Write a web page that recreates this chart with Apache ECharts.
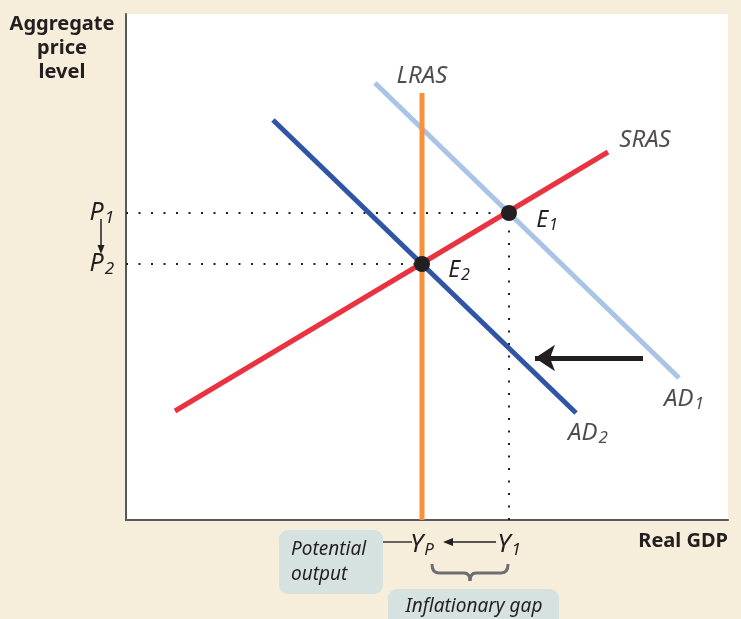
<!DOCTYPE html>
<html><head><meta charset="utf-8">
<script src="https://cdn.jsdelivr.net/npm/echarts@6/dist/echarts.min.js"></script>
<style>html,body{margin:0;padding:0;background:#f6eddb;} #c{width:741px;height:619px;}</style>
</head><body><div id="c"></div>
<script>
// Data (arbitrary units)
const xRange = [0, 602];
const yRange = [0, 506];
const lras = [[296, 0], [296, 427]];
const sras = [[49, 109], [482, 368]];
const ad1  = [[249, 437], [553, 142]];
const ad2  = [[147, 400], [450, 107]];
const e1 = [383, 307];
const e2 = [296, 256];
const shiftArrow = [[517, 162], [409, 162]];
const yTickValues = [e1[1], e2[1]];
const yTickLabels = [['P', '1'], ['P', '2']];
const xTickValues = [e2[0], e1[0]];
const xTickLabels = [['Y', 'P'], ['Y', '1']];
const curveNames = ['LRAS', 'SRAS', 'AD', 'AD'];
const curveSubs = ['', '', '1', '2'];

const FONT = 'Noto Sans';
const INK = '#231f20';
const richSub = (mainSize, subSize, pad) => ({
  m: {fontFamily: FONT, fontStyle: 'italic', fontSize: mainSize, color: INK},
  s: {fontFamily: FONT, fontStyle: 'italic', fontSize: subSize, color: INK, padding: [pad, 0, 0, 1]}
});
const fmt = (pair) => '{m|' + pair[0] + '}' + (pair[1] ? '{s|' + pair[1] + '}' : '');

const chart = echarts.init(document.getElementById('c'));
const option = {
  animation: false,
  backgroundColor: '#f6eddb',
  grid: {left: 126, top: 14, width: 602, height: 506, show: true, backgroundColor: '#ffffff', borderWidth: 0},
  xAxis: {
    type: 'value', min: xRange[0], max: xRange[1],
    axisLine: {show: true, lineStyle: {color: '#58595b', width: 2}},
    axisTick: {show: false}, splitLine: {show: false},
    axisLabel: {
      customValues: xTickValues, margin: 11,
      formatter: v => fmt(xTickLabels[xTickValues.indexOf(v)]),
      rich: richSub(26, 17, 11)
    }
  },
  yAxis: {
    type: 'value', min: yRange[0], max: yRange[1],
    axisLine: {show: true, lineStyle: {color: '#58595b', width: 2}},
    axisTick: {show: false}, splitLine: {show: false},
    axisLabel: {
      customValues: yTickValues, margin: 12,
      formatter: v => fmt(yTickLabels[yTickValues.indexOf(v)]),
      rich: richSub(25, 17, 11)
    }
  },
  series: [
    {type: 'line', silent: true, showSymbol: false, data: [[0, e1[1]], e1],
     lineStyle: {color: INK, width: 2, type: [2, 10.5]}},
    {type: 'line', silent: true, showSymbol: false, data: [[0, e2[1]], e2],
     lineStyle: {color: INK, width: 2, type: [2, 10.5]}},
    {type: 'line', silent: true, showSymbol: false, data: [[e1[0], 0], e1],
     lineStyle: {color: INK, width: 2, type: [2, 10.5]}},
    {type: 'line', silent: true, showSymbol: false, data: ad1, lineStyle: {color: '#a9c4e5', width: 5}},
    {type: 'line', silent: true, showSymbol: false, data: ad2, lineStyle: {color: '#3155a6', width: 5}},
    {type: 'line', silent: true, showSymbol: false, data: sras, lineStyle: {color: '#ea3340', width: 5}},
    {type: 'line', silent: true, showSymbol: false, data: lras, lineStyle: {color: '#f7923a', width: 5}},
    {type: 'lines', coordinateSystem: 'cartesian2d', silent: true,
     symbol: ['none', 'arrow'], symbolSize: [13, 20],
     lineStyle: {color: INK, width: 5, opacity: 1},
     data: [{coords: shiftArrow}]},
    {type: 'scatter', silent: true, symbolSize: 16, z: 10, itemStyle: {color: INK, opacity: 1},
     data: [
       {value: e1, label: {show: true, position: 'inside', offset: [38, 7], formatter: fmt(['E', '1']), rich: richSub(23, 16, 10)}},
       {value: e2, label: {show: true, position: 'inside', offset: [37, 6], formatter: fmt(['E', '2']), rich: richSub(23, 16, 10)}}
     ]},
    {type: 'scatter', silent: true, symbolSize: 1, z: 10, itemStyle: {color: 'rgba(0,0,0,0)'},
     data: [
       {value: lras[1], label: {show: true, position: 'inside', offset: [0, -17], formatter: fmt([curveNames[0], curveSubs[0]]), rich: richSub(24, 16, 10)}},
       {value: sras[1], label: {show: true, position: 'inside', offset: [37, -12], formatter: fmt([curveNames[1], curveSubs[1]]), rich: richSub(24, 16, 10)}},
       {value: ad1[1], label: {show: true, position: 'inside', offset: [5, 21], formatter: fmt([curveNames[2], curveSubs[2]]), rich: richSub(24, 17, 11)}},
       {value: ad2[1], label: {show: true, position: 'inside', offset: [12, 20], formatter: fmt([curveNames[3], curveSubs[3]]), rich: richSub(24, 17, 11)}}
     ]}
  ]
};
chart.setOption(option);

// Annotations positioned from the axis values
const px = v => chart.convertToPixel({gridIndex: 0}, v);
const pP1 = px([0, e1[1]]), pP2 = px([0, e2[1]]);
const pYP = px([e2[0], 0]), pY1 = px([e1[0], 0]);
const ax = 101;
const yArrY = 542;
const L = pYP[0] + 10, R = pY1[0] - 1, M = (L + R) / 2;
const BT = 564, BY = 573, BB = 581;
const braceStyle = {stroke: '#6d6e71', lineWidth: 3, fill: null};
chart.setOption({
  graphic: [
    {type: 'text', style: {x: 62, y: 12, text: 'Aggregate\nprice\nlevel', align: 'center', verticalAlign: 'top',
      font: 'bold 20px "Noto Sans"', lineHeight: 24, fill: INK}},
    {type: 'text', style: {x: 728, y: 541, text: 'Real GDP', align: 'right', verticalAlign: 'middle',
      font: 'bold 20px "Noto Sans"', fill: INK}},
    // P1 -> P2 arrow
    {type: 'line', shape: {x1: ax, y1: pP1[1] + 6, x2: ax, y2: pP2[1] - 16}, style: {stroke: INK, lineWidth: 1.5}},
    {type: 'polygon', shape: {points: [[ax - 3.5, pP2[1] - 19], [ax + 3.5, pP2[1] - 19], [ax, pP2[1] - 10]]}, style: {fill: INK}},
    // Y1 -> YP arrow
    {type: 'line', shape: {x1: pY1[0] - 13, y1: yArrY, x2: pYP[0] + 28, y2: yArrY}, style: {stroke: INK, lineWidth: 1.5}},
    {type: 'polygon', shape: {points: [[pYP[0] + 21, yArrY], [pYP[0] + 31, yArrY - 4], [pYP[0] + 31, yArrY + 4]]}, style: {fill: INK}},
    // Potential output box
    {type: 'rect', shape: {x: 279, y: 530, width: 104, height: 64, r: 9}, style: {fill: '#d5e2e0'}},
    {type: 'line', shape: {x1: 383, y1: yArrY, x2: pYP[0] - 10, y2: yArrY}, style: {stroke: '#3a3536', lineWidth: 1.5}},
    {type: 'text', style: {x: 291, y: 537, text: 'Potential\noutput', align: 'left', verticalAlign: 'top',
      font: 'italic 19px "Noto Sans"', lineHeight: 25, fill: INK}},
    // Brace
    {type: 'bezierCurve', shape: {x1: L, y1: BT, x2: L + 7, y2: BY, cpx1: L, cpy1: BY}, style: braceStyle},
    {type: 'line', shape: {x1: L + 7, y1: BY, x2: M - 6, y2: BY}, style: braceStyle},
    {type: 'bezierCurve', shape: {x1: M - 6, y1: BY, x2: M, y2: BB, cpx1: M, cpy1: BY}, style: braceStyle},
    {type: 'bezierCurve', shape: {x1: M, y1: BB, x2: M + 6, y2: BY, cpx1: M, cpy1: BY}, style: braceStyle},
    {type: 'line', shape: {x1: M + 6, y1: BY, x2: R - 7, y2: BY}, style: braceStyle},
    {type: 'bezierCurve', shape: {x1: R - 7, y1: BY, x2: R, y2: BT, cpx1: R, cpy1: BY}, style: braceStyle},
    // Inflationary gap box
    {type: 'rect', shape: {x: 388, y: 589, width: 171, height: 45, r: 9}, style: {fill: '#d5e2e0'}},
    {type: 'text', style: {x: 474, y: 607, text: 'Inflationary gap', align: 'center', verticalAlign: 'middle',
      font: 'italic 19px "Noto Sans"', fill: INK}}
  ]
});
</script></body></html>
